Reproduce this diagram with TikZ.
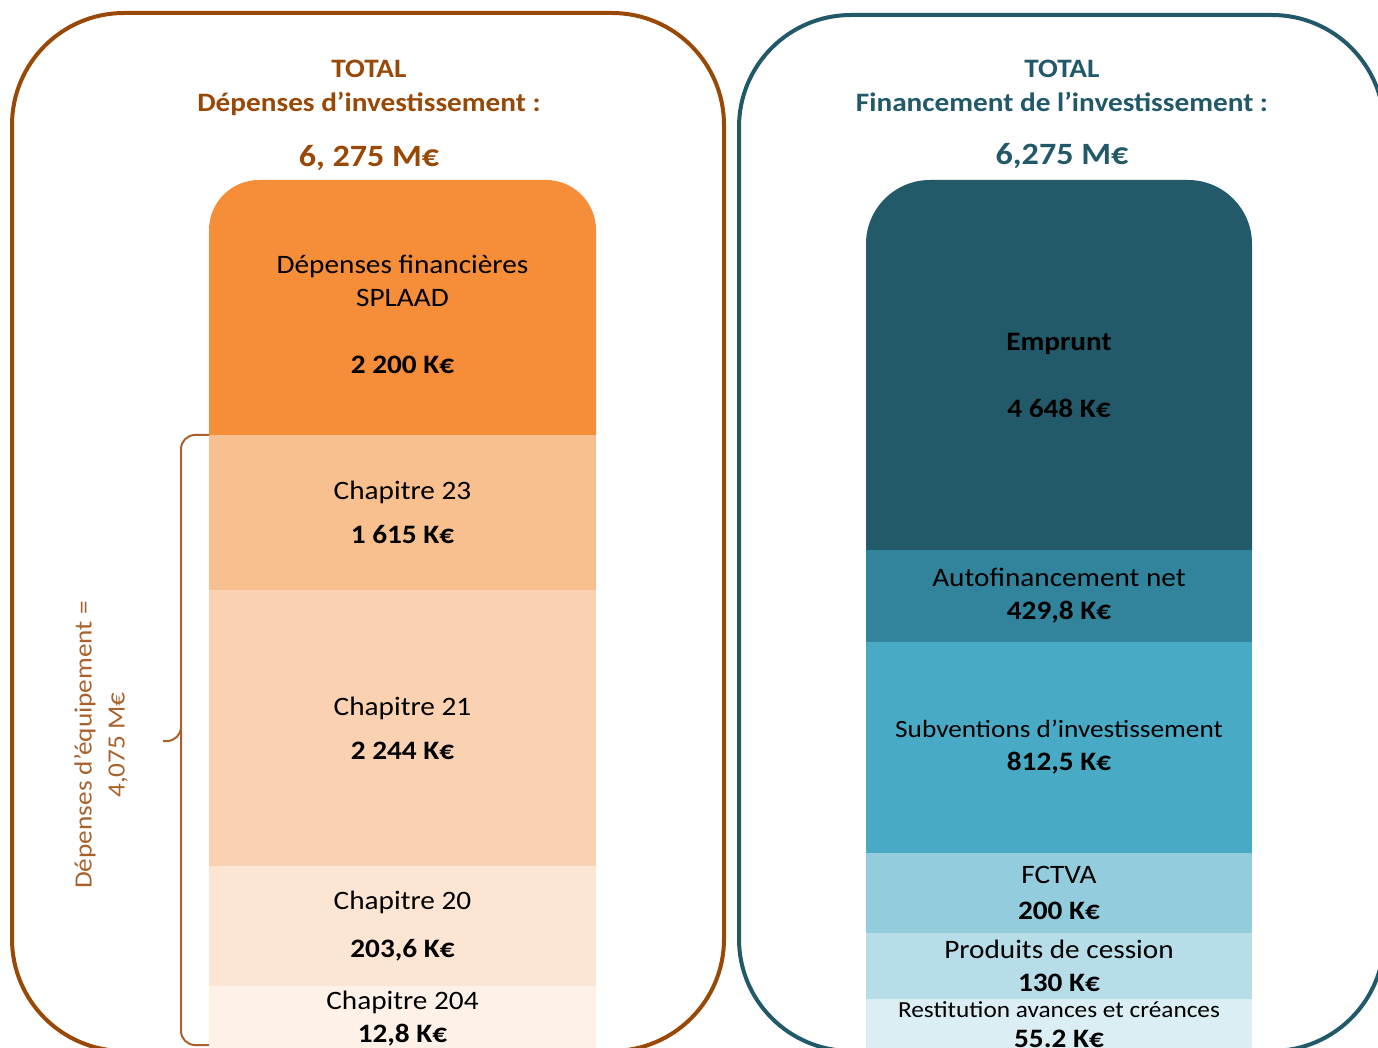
\documentclass[tikz,border=0pt]{standalone}
\usepackage{fontspec}
\setmainfont{Carlito}[FakeStretch=1.1]
\usepackage{tikz}
\usetikzlibrary{positioning}
\definecolor{brn}{HTML}{984807}
\definecolor{brnlt}{HTML}{A8622E}
\definecolor{tel}{HTML}{215968}
\definecolor{cfin}{HTML}{F68D39}
\definecolor{cchA}{HTML}{F8BF8F}
\definecolor{cchB}{HTML}{FAD1B1}
\definecolor{cchC}{HTML}{FDE5D4}
\definecolor{cchD}{HTML}{FEF2E8}
\definecolor{cemp}{HTML}{235A69}
\definecolor{caut}{HTML}{31849B}
\definecolor{csub}{HTML}{48AAC5}
\definecolor{cfct}{HTML}{93CDDD}
\definecolor{cpro}{HTML}{B7DDE8}
\definecolor{cres}{HTML}{DAEEF3}
\newcommand{\lblfont}{\fontsize{13.3}{16.5}\selectfont}
\tikzset{
  panel/.style={line width=2pt, rounded corners=56pt},
  seg/.style={rectangle, inner sep=0pt, outer sep=0pt, minimum width=193.5pt, align=center, font=\lblfont},
  topseg/.style={path picture={\fill[#1] (path picture bounding box.north west) rectangle ([yshift=-40pt]path picture bounding box.south east);}},
  segtxt/.style={align=center, inner sep=0pt, font=\lblfont},
  ttl/.style={align=center, font=\fontsize{13.3}{17}\selectfont\bfseries},
  tot/.style={font=\fontsize{15.5}{18}\selectfont\bfseries},
  brc/.style={line width=1pt, rounded corners=7pt}
}

\begin{document}
\begin{tikzpicture}[x=0.5pt, y=-0.5pt]
    \useasboundingbox (0,0) rectangle (1378,1048);
    \clip (0,0) rectangle (1378,1048);

    % depenses
    \draw[panel, brn] (12,13) rectangle (724,1051);
    \node[ttl, text=brn] (ltitle) at (369,88) {TOTAL\\Dépenses d’investissement :};
    \node[tot, text=brn] (ltotal) at (369,158) {6, 275 M€};
    \node[seg, minimum height=127.5pt, topseg={cfin, rounded corners=25pt}] (fin) at (402.5,307.5) {};
    \node[segtxt] (fintxt) at ([yshift=-3.5pt]fin.center) {Dépenses financières\\SPLAAD\\[17pt]\textbf{2 200 K€}};
    \node[seg, fill=cchA, minimum height=77.5pt, below=0pt of fin] (ch23) {Chapitre 23\\[5.5pt]\textbf{1 615 K€}};
    \node[seg, fill=cchB, minimum height=138pt, below=0pt of ch23] (ch21) {Chapitre 21\\[5.5pt]\textbf{2 244 K€}};
    \node[seg, fill=cchC, minimum height=60pt, below=0pt of ch21] (ch20) {Chapitre 20\\[7.5pt]\textbf{203,6 K€}};
    \node[seg, fill=cchD, minimum height=32.5pt, below=0pt of ch20] (ch204) {Chapitre 204\\\textbf{12,8 K€}};

    \coordinate (brtip) at (155,741);
    \coordinate (brbot) at (209,1045);
    \draw[brc, brnlt] (ch23.north west) -- ++(-28,0) |- (brtip) -| ++(26,0) |- (brbot);
    \node[rotate=90, align=center, text=brnlt, font=\fontsize{12.4}{16.5}\selectfont] (equip) at (101,745) {Dépenses d’équipement =\\4,075 M€};

    % financement
    \draw[panel, tel] (739,15) rectangle (1384,1051);
    \node[ttl, text=tel] (rtitle) at (1062,86) {TOTAL\\Financement de l’investissement :};
    \node[tot, text=tel] (rtotal) at (1062,156) {6,275 M€};
    \node[seg, minimum width=193pt, minimum height=185pt, topseg={cemp, rounded corners=32pt}] (emp) at (1059,365) {};
    \node[segtxt] (emptxt) at ([yshift=-5pt]emp.center) {\textbf{Emprunt}\\[17pt]\textbf{4 648 K€}};
    \node[seg, fill=caut, minimum width=193pt, minimum height=46pt, below=0pt of emp] (aut) {Autofinancement net\\\textbf{429,8 K€}};
    \node[seg, fill=csub, minimum width=193pt, minimum height=105.5pt, below=0pt of aut] (sub) {{\fontsize{12.4}{16.5}\selectfont Subventions d’investissement}\\\textbf{812,5 K€}};
    \node[seg, fill=cfct, minimum width=193pt, minimum height=40pt, below=0pt of sub] (fct) {FCTVA\\[1.5pt]\textbf{200 K€}};
    \node[seg, fill=cpro, minimum width=193pt, minimum height=33pt, below=0pt of fct] (pro) {Produits de cession\\\textbf{130 K€}};
    \node[seg, fill=cres, minimum width=193pt, minimum height=26pt, below=0pt of pro] (res) {{\fontsize{11.5}{15}\selectfont Restitution avances et créances}\\[-1.5pt]\textbf{55.2 K€}};
\end{tikzpicture}
\end{document}
